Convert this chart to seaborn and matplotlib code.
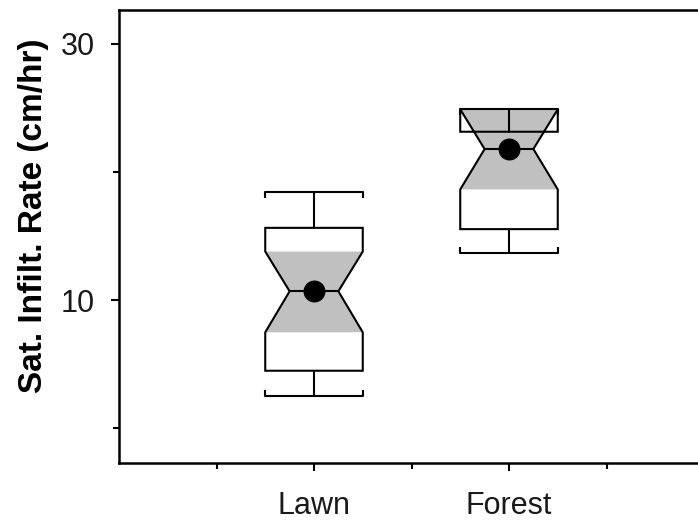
import matplotlib
matplotlib.use("Agg")
import matplotlib.pyplot as plt
import matplotlib.markers as mmarkers
from matplotlib.ticker import FixedLocator
import numpy as np
import pandas as pd
import seaborn as sns

# Summary statistics of saturated infiltration rate (cm/hr) by land use
sites = ["Lawn", "Forest"]
whisker_low = [2.5, 13.7]
q1 = [4.5, 15.55]
medians = [10.7, 21.8]
q3 = [15.65, 23.15]
whisker_high = [18.45, 24.9]
notch_low = [7.5, 18.65]
notch_high = [13.8, 24.9]

y_ticks = [10, 30]
y_minor_ticks = [0, 20]

sns.set_theme(style="ticks")
plt.rcParams["font.family"] = ["Liberation Sans", "DejaVu Sans"]

fig = plt.figure(figsize=(6.98, 5.23), dpi=100)
ax = fig.add_axes([119 / 698, 1 - 463 / 523, 585 / 698, 453 / 523])

positions = np.arange(len(sites))
box_width = 0.5

stats = [
    dict(label=s, whislo=wl, q1=a, med=m, q3=b, whishi=wh, cilo=cl, cihi=ch, fliers=[])
    for s, wl, a, m, b, wh, cl, ch in zip(
        sites, whisker_low, q1, medians, q3, whisker_high, notch_low, notch_high
    )
]

# Grey shading inside each notch (hourglass between the confidence limits)
for p, m, cl, ch in zip(positions, medians, notch_low, notch_high):
    hw = box_width / 2
    xs = [p - hw, p - hw / 2, p - hw, p + hw, p + hw / 2, p + hw]
    ys = [cl, m, ch, ch, m, cl]
    ax.fill(xs, ys, color="#c0c0c0", lw=0, zorder=1)

line_kw = dict(color="black", linewidth=1.5)
parts = ax.bxp(
    stats,
    positions=positions,
    widths=box_width,
    capwidths=box_width,
    shownotches=True,
    showfliers=False,
    patch_artist=True,
    manage_ticks=False,
    boxprops=dict(facecolor="none", edgecolor="black", linewidth=1.5),
    medianprops=line_kw,
    whiskerprops=line_kw,
    capprops=line_kw,
    zorder=2,
)

# Small end ticks on whisker caps, pointing toward the box
for i, cap in enumerate(parts["caps"]):
    cap.set_marker(mmarkers.TICKUP if i % 2 == 0 else mmarkers.TICKDOWN)
    cap.set_markersize(4)
    cap.set_markeredgewidth(1.5)
    cap.set_markeredgecolor("black")

# Median dots
med_df = pd.DataFrame({"pos": positions, "median": medians})
sns.scatterplot(
    data=med_df, x="pos", y="median", ax=ax, s=250, color="black",
    edgecolor="black", linewidth=0, zorder=3, legend=False,
)

ax.set_xlim(-1, 2)
ax.set_ylim(-2.7, 32.65)

ax.set_xticks(positions)
ax.set_xticklabels(sites)
ax.xaxis.set_minor_locator(FixedLocator([-0.5, 0.5, 1.5]))
ax.set_yticks(y_ticks)
ax.set_yticklabels([str(t) for t in y_ticks])
ax.yaxis.set_minor_locator(FixedLocator(y_minor_ticks))

ax.tick_params(axis="both", which="major", length=5.5, width=1.5, color="black",
               labelsize=22, labelcolor="#1a1a1a")
ax.tick_params(axis="both", which="minor", length=4.5, width=1.5, color="black")
ax.tick_params(axis="x", which="major", pad=15)
ax.tick_params(axis="y", which="major", pad=12)

ax.set_xlabel("")
ax.set_ylabel("Sat. Infilt. Rate (cm/hr)", fontsize=24, fontweight="bold", color="black")
ax.yaxis.set_label_coords(-0.12, 0.545)

for side in ["left", "bottom", "top", "right"]:
    ax.spines[side].set_color("black")
    ax.spines[side].set_linewidth(1.8)

fig.savefig("out.png", dpi=100)
